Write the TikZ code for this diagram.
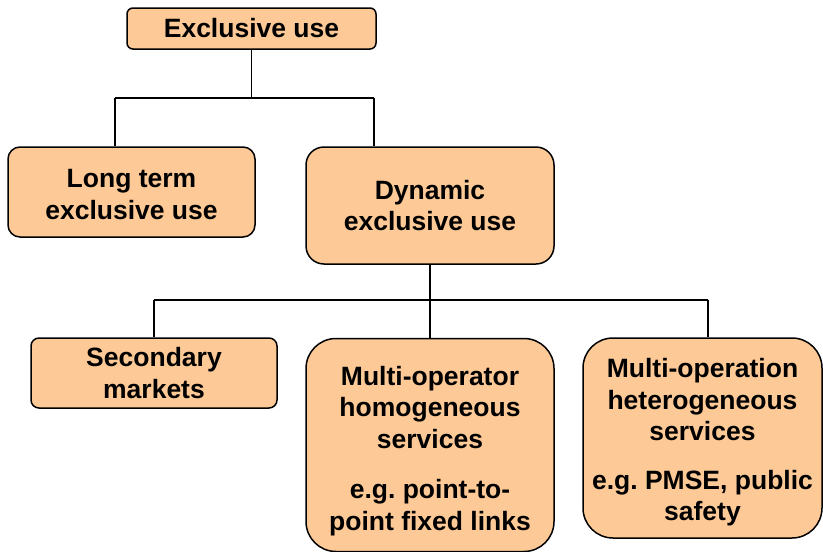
\documentclass[tikz,border=0pt]{standalone}
\usepackage{fontspec}
\setmainfont{Liberation Sans}
\definecolor{boxfill}{RGB}{253,202,151}
\begin{document}
\frenchspacing
\begin{tikzpicture}[x=1pt,y=-1pt,
  box/.style={draw=black, line width=1.5pt, fill=boxfill, align=center,
    font=\bfseries\fontsize{26.5}{31.5}\selectfont\frenchspacing, inner sep=0pt},
  conn/.style={draw=black, line width=1.5pt}]
\useasboundingbox (0,0) rectangle (823,552);
% nodes
\node[box, rounded corners=6pt, minimum width=249, minimum height=41] (top) at (251.5,28.5) {Exclusive use};
\node[box, rounded corners=12pt, minimum width=247, minimum height=90] (long) at (131.5,192) {\rule{0pt}{23pt}Long term\\exclusive use};
\node[box, rounded corners=18pt, minimum width=248, minimum height=117] (dyn) at (430,205.5) {Dynamic\\exclusive use};
\node[box, rounded corners=8pt, minimum width=246, minimum height=70] (sec) at (154,373) {Secondary\\markets};
\node[box, rounded corners=30pt, minimum width=248, minimum height=213] (mop) at (430,445) {\rule{0pt}{31pt}Multi-operator\\homogeneous\\services\\[19pt]e.g. point-to-\\point fixed links};
\node[box, rounded corners=30pt, minimum width=239, minimum height=200] (mhet) at (702.5,438) {\rule{0pt}{28pt}Multi-operation\\heterogeneous\\services\\[17pt]e.g. PMSE, public\\safety};
% junction points
\coordinate (a1) at (115,98);
\coordinate (a2) at (374,98);
\coordinate (b1) at (154,300);
\coordinate (b3) at (708,300);
% connectors
\draw[conn] (top.south) -- (top.south |- a1);
\draw[conn] (a1) -- (a2);
\draw[conn] (a1) -- (a1 |- long.north);
\draw[conn] (a2) -- (a2 |- dyn.north);
\draw[conn] (dyn.south) -- (dyn.south |- b1);
\draw[conn] (b1) -- (b3);
\draw[conn] (b1) -- (sec.north);
\draw[conn] (mop.north |- b1) -- (mop.north);
\draw[conn] (b3) -- (b3 |- mhet.north);
\end{tikzpicture}
\end{document}
